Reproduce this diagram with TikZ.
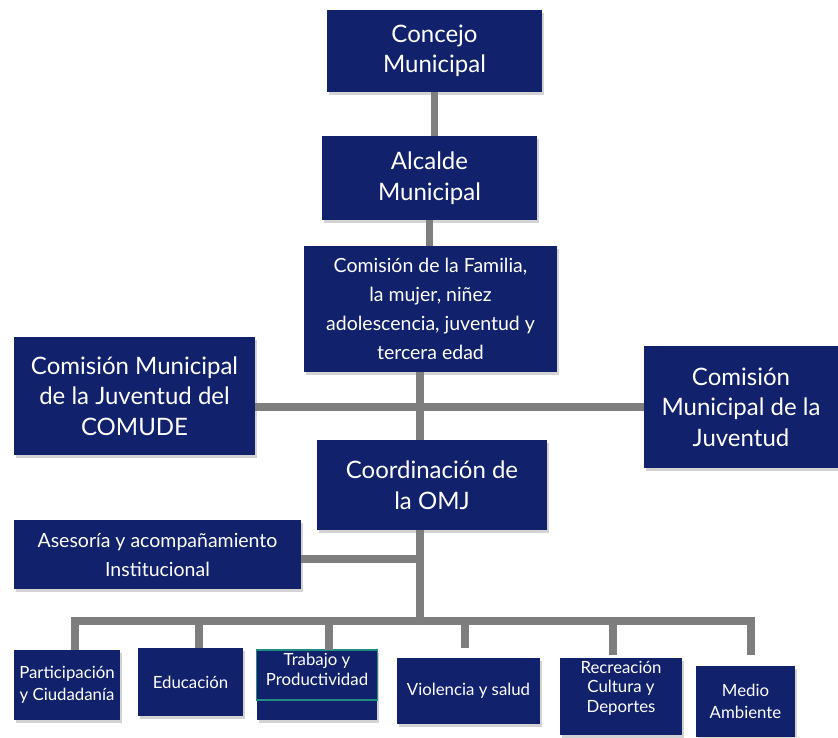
\documentclass[tikz,border=0pt]{standalone}
\usepackage{fontspec}
\setmainfont{Lato}
\usetikzlibrary{shadows}
\definecolor{navy}{HTML}{11216C}
\definecolor{link}{HTML}{7E7E7E}
\definecolor{tealedge}{HTML}{1E8C7E}
\begin{document}
\begin{tikzpicture}[x=1pt,y=-1pt,
  box/.style={fill=navy,text=white,align=center,inner sep=2pt,
    drop shadow={opacity=0.35,shadow xshift=1.5pt,shadow yshift=-2.5pt}},
  big/.style={font=\fontsize{24}{30.5}\selectfont},
  mid/.style={font=\fontsize{19.5}{29}\selectfont},
  small/.style={font=\fontsize{16.8}{22}\selectfont},
  tight/.style={font=\fontsize{16.8}{19.5}\selectfont},
  wire/.style={draw=link,line width=7.5pt}]
\useasboundingbox (0,0) rectangle (838,737);

% upper chain
\node[box,big,minimum width=215pt,minimum height=82pt] (conc) at (434.5,51) {Concejo\\Municipal};
\node[box,big,minimum width=215pt,minimum height=84pt] (alc) at (429.5,178) {Alcalde\\Municipal};
\node[box,mid,minimum width=253pt,minimum height=126pt] (fam) at (430.5,309) {Comisión de la Familia,\\la mujer, niñez\\adolescencia, juventud y\\tercera edad};

% side commissions
\node[box,big,minimum width=241pt,minimum height=118pt] (comude) at (134.5,396) {Comisión Municipal\\de la Juventud del\\COMUDE};
\node[box,big,minimum width=194pt,minimum height=122pt] (cmj) at (741,407) {Comisión\\Municipal de la\\Juventud};

% coordination and advisory
\node[box,big,minimum width=230pt,minimum height=90pt] (omj) at (432,485) {Coordinación de\\la OMJ};
\node[box,mid,minimum width=287pt,minimum height=69pt] (ases) at (157.5,554.5) {Asesoría y acompañamiento\\Institucional};

% programme areas
\node[box,small,minimum width=106pt,minimum height=70pt] (part) at (67,685) {Participación\\y Ciudadanía};
\node[box,small,minimum width=105pt,minimum height=68pt] (edu) at (190.5,682) {Educación};
\node[box,tight,minimum width=120pt,minimum height=70pt,anchor=north,text depth=32pt] (trab) at (317,650) {Trabajo y\\Productividad};
\node[box,small,minimum width=143pt,minimum height=66pt] (viol) at (468.5,691) {Violencia y salud};
\node[box,tight,minimum width=122pt,minimum height=77pt,text depth=20pt] (recr) at (621,696.5) {Recreación\\Cultura y\\Deportes};
\node[box,small,minimum width=99pt,minimum height=71pt] (medio) at (745.5,701.5) {Medio\\Ambiente};
\draw[tealedge,line width=1.2pt] (trab.north west) rectangle ([yshift=-50pt]trab.north east);

% spine and bus positions
\coordinate (sx) at (420,0);
\coordinate (hy) at (0,407);
\coordinate (ay) at (0,559);
\coordinate (busL) at (75,621);
\coordinate (busR) at (751,621);

\draw[wire] (conc.south) -- (conc.south |- alc.north);
\draw[wire] (alc.south) -- (alc.south |- fam.north);
\draw[wire] (fam.south -| sx) -- (omj.north -| sx);
\draw[wire] (comude.east |- hy) -- (cmj.west |- hy);
\draw[wire] (omj.south -| sx) -- (sx |- busL);
\draw[wire] (ases.east |- ay) -- (sx |- ay);
\draw[wire,line cap=rect] (busL) -- (busR);
\draw[wire] (busL) -- (busL |- part.north);
\draw[wire] (busL -| 199,0) -- (edu.north -| 199,0);
\draw[wire] (busL -| 329,0) -- (trab.north -| 329,0);
\draw[wire,shorten >=10pt] (busL -| 465,0) -- (viol.north -| 465,0);
\draw[wire,shorten >=3pt] (busL -| 613,0) -- (recr.north -| 613,0);
\draw[wire,shorten >=11pt] (busR) -- (busR |- medio.north);
\end{tikzpicture}
\end{document}
